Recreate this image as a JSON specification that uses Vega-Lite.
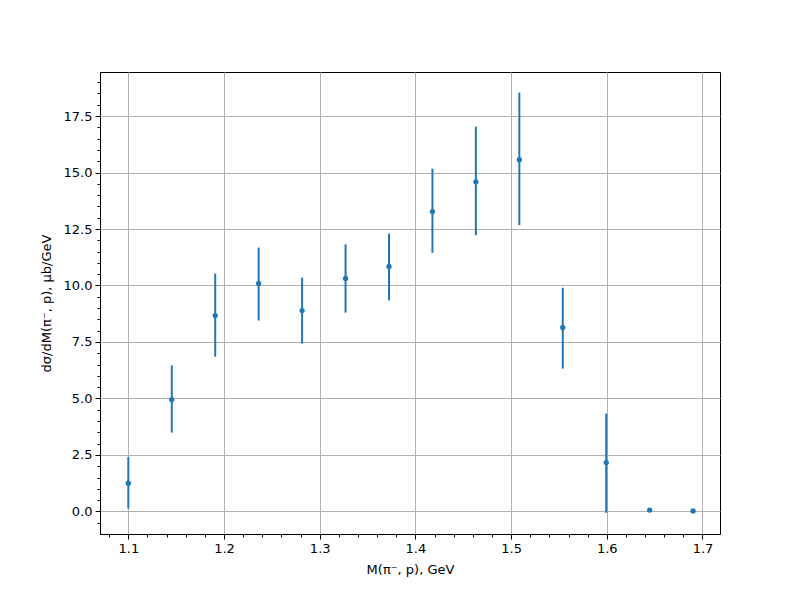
{
  "$schema": "https://vega.github.io/schema/vega-lite/v6.json",
  "width": 620,
  "height": 462,
  "autosize": "none",
  "padding": {"left": 100, "top": 72, "right": 80, "bottom": 66},
  "background": "white",
  "config": {
    "view": {"stroke": "black", "strokeWidth": 1},
    "font": "DejaVu Sans",
    "axis": {
      "labelFont": "DejaVu Sans",
      "titleFont": "DejaVu Sans",
      "labelFontSize": 13,
      "titleFontSize": 13,
      "titleFontWeight": "normal",
      "labelColor": "black",
      "titleColor": "black",
      "domainColor": "black",
      "tickColor": "black",
      "gridColor": "#b0b0b0",
      "gridWidth": 1,
      "gridOpacity": 1
    }
  },
  "data": {
    "values": [
      {"m": 1.1, "v": 1.25, "lo": 0.13, "hi": 2.41},
      {"m": 1.1454, "v": 4.95, "lo": 3.49, "hi": 6.46},
      {"m": 1.1908, "v": 8.67, "lo": 6.85, "hi": 10.53},
      {"m": 1.2362, "v": 10.09, "lo": 8.45, "hi": 11.68},
      {"m": 1.2816, "v": 8.89, "lo": 7.43, "hi": 10.35},
      {"m": 1.327, "v": 10.31, "lo": 8.8, "hi": 11.82},
      {"m": 1.3724, "v": 10.84, "lo": 9.34, "hi": 12.3},
      {"m": 1.4178, "v": 13.27, "lo": 11.45, "hi": 15.17},
      {"m": 1.4632, "v": 14.59, "lo": 12.23, "hi": 17.03},
      {"m": 1.5086, "v": 15.57, "lo": 12.67, "hi": 18.54},
      {"m": 1.554, "v": 8.14, "lo": 6.32, "hi": 9.9},
      {"m": 1.5994, "v": 2.16, "lo": -0.06, "hi": 4.33},
      {"m": 1.6448, "v": 0.06, "lo": 0.06, "hi": 0.06},
      {"m": 1.6902, "v": 0.02, "lo": 0.02, "hi": 0.02}
    ]
  },
  "resolve": {"axis": {"x": "independent", "y": "independent"}},
  "layer": [
    {
      "mark": {"type": "rule", "color": "#1f77b4", "strokeWidth": 2, "strokeCap": "butt"},
      "encoding": {
        "x": {
          "field": "m", "type": "quantitative",
          "scale": {"domain": [1.0704, 1.7183], "nice": false, "zero": false},
          "axis": {
            "orient": "bottom",
            "title": "M(π⁻, p), GeV",
            "values": [1.1, 1.2, 1.3, 1.4, 1.5, 1.6, 1.7],
            "format": ".1f",
            "grid": true,
            "tickSize": 5,
            "labelPadding": 3,
            "titlePadding": 8
          }
        },
        "y": {
          "field": "lo", "type": "quantitative",
          "scale": {"domain": [-1.0, 19.45], "nice": false, "zero": false},
          "axis": {
            "orient": "left",
            "title": "dσ/dM(π⁻, p), μb/GeV",
            "values": [0, 2.5, 5, 7.5, 10, 12.5, 15, 17.5],
            "format": ".1f",
            "grid": true,
            "tickSize": 5,
            "labelPadding": 3,
            "titlePadding": 10
          }
        },
        "y2": {"field": "hi"}
      }
    },
    {
      "mark": {"type": "point", "filled": true, "color": "#1f77b4", "size": 28, "opacity": 1},
      "encoding": {
        "x": {
          "field": "m", "type": "quantitative",
          "axis": {
            "orient": "bottom",
            "title": null,
            "labels": false,
            "grid": false,
            "domain": false,
            "tickSize": 3,
            "values": [1.08, 1.12, 1.14, 1.16, 1.18, 1.22, 1.24, 1.26, 1.28, 1.32, 1.34, 1.36, 1.38, 1.42, 1.44, 1.46, 1.48, 1.52, 1.54, 1.56, 1.58, 1.62, 1.64, 1.66, 1.68]
          }
        },
        "y": {
          "field": "v", "type": "quantitative",
          "axis": {
            "orient": "left",
            "title": null,
            "labels": false,
            "grid": false,
            "domain": false,
            "tickSize": 3,
            "values": [-0.5, 0.5, 1, 1.5, 2, 3, 3.5, 4, 4.5, 5.5, 6, 6.5, 7, 8, 8.5, 9, 9.5, 10.5, 11, 11.5, 12, 13, 13.5, 14, 14.5, 15.5, 16, 16.5, 17, 18, 18.5, 19]
          }
        }
      }
    }
  ]
}
